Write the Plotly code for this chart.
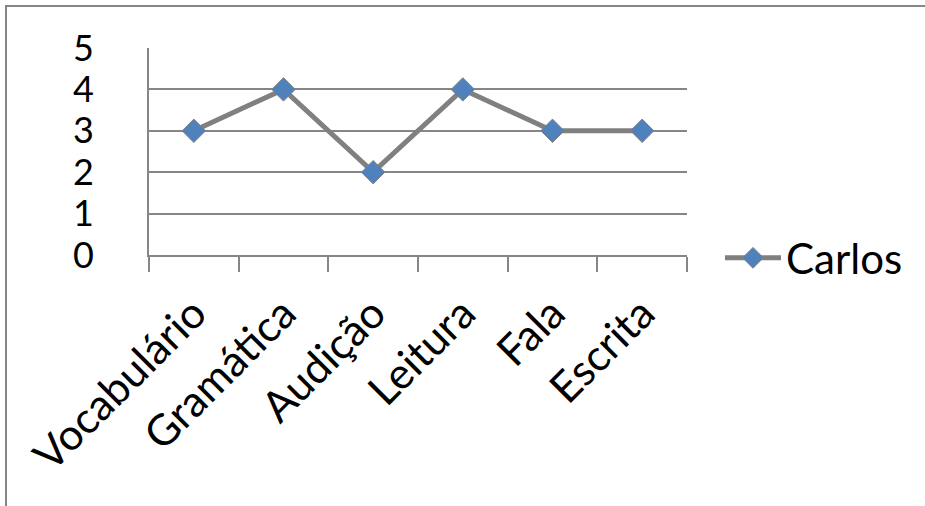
import plotly.graph_objects as go

categories = ["Vocabulário", "Gramática", "Audição", "Leitura", "Fala", "Escrita"]
carlos = [3, 4, 2, 4, 3, 3]
series_name = "Carlos"
y_ticks = [0, 1, 2, 3, 4, 5]

W, H = 925, 506
L, R, T, B = 149, 238, 48, 251
pw, ph = W - L - R, H - T - B

def px_x(x):
    return (x - L) / pw

def px_y(y):
    return (H - B - y) / ph

gray = "#868686"
font = "Lato, 'Open Sans', sans-serif"

fig = go.Figure()
fig.add_trace(go.Scatter(
    x=categories, y=carlos, name=series_name, mode="lines+markers",
    line=dict(color="#808080", width=5),
    marker=dict(symbol="diamond", size=18, color="#4f81bd",
                line=dict(color="#7f7f7f", width=1)),
))

fig.update_layout(
    width=W, height=H,
    margin=dict(l=L, r=R, t=T, b=B, pad=0),
    paper_bgcolor="white", plot_bgcolor="white",
    font=dict(family=font, size=38, color="black"),
    showlegend=True,
    legend=dict(x=px_x(720), y=px_y(258), xanchor="left", yanchor="middle",
                font=dict(size=42), bgcolor="rgba(0,0,0,0)", itemwidth=56,
                tracegroupgap=0),
    xaxis=dict(
        type="category", range=[-0.5, 5.5],
        showline=True, linecolor=gray, linewidth=2,
        ticks="outside", tickson="boundaries", ticklen=15, tickcolor=gray, tickwidth=2,
        tickangle=-45, tickfont=dict(size=43), ticklabelstandoff=14,
        showgrid=False, zeroline=False,
    ),
    yaxis=dict(
        range=[0, 5], tickvals=y_ticks,
        showline=True, linecolor=gray, linewidth=2,
        showgrid=True, gridcolor=gray, gridwidth=2,
        ticks="", ticklabelstandoff=46, tickfont=dict(size=36),
        zeroline=False,
    ),
    shapes=[
        dict(type="rect", xref="paper", yref="paper",
             x0=px_x(6), x1=px_x(W + 60), y0=px_y(6), y1=px_y(H + 60),
             line=dict(color=gray, width=2), fillcolor="rgba(0,0,0,0)"),
    ],
)

fig.write_html("out.html", config={"displayModeBar": False},
               default_width="925px", default_height="506px")
